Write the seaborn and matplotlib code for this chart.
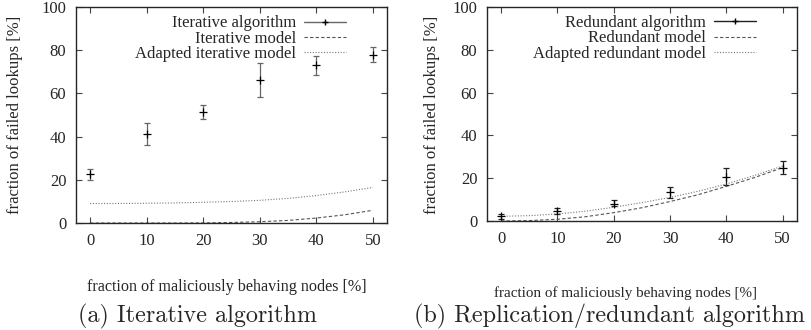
import numpy as np
import pandas as pd
import seaborn as sns
import matplotlib
matplotlib.use('Agg')
import matplotlib.pyplot as plt
from matplotlib.lines import Line2D

# measured points (x = fraction of malicious nodes)
pts_x = [0, 10, 20, 30, 40, 50]
iter_y = [22.6, 41.2, 51.2, 66.3, 73.1, 77.9]
iter_lo = [19.8, 36.2, 48.1, 58.2, 68.4, 74.5]
iter_hi = [24.8, 46.1, 54.8, 74.3, 77.1, 81.3]
red_y = [2.3, 4.7, 8.1, 13.6, 20.6, 24.8]
red_lo = [1.1, 3.4, 6.9, 10.9, 16.6, 21.9]
red_hi = [3.4, 5.9, 9.7, 15.9, 24.7, 28.1]

# model curves
model_x = [0, 5, 10, 15, 20, 25, 30, 35, 40, 45, 50]
iter_model = [0, 0, 0, 0, 0.05, 0.25, 0.6, 1.2, 2.3, 3.8, 5.9]
iter_adapted = [9.0, 9.05, 9.15, 9.3, 9.6, 9.95, 10.5, 11.4, 12.7, 14.4, 16.5]
red_model = [0, 0.2, 0.8, 2.0, 3.9, 6.2, 9.1, 12.3, 16.2, 20.3, 25.0]
red_adapted = [2.2, 2.5, 3.3, 4.6, 6.4, 8.6, 11.0, 13.9, 17.3, 21.3, 25.7]

sns.set_style('ticks')
plt.rcParams['font.family'] = ['Liberation Serif', 'DejaVu Serif']

fig = plt.figure(figsize=(8.11, 3.3), dpi=100)
ax1 = fig.add_axes([0.0937, 0.3242, 0.3835, 0.6545])
ax2 = fig.add_axes([0.6005, 0.3303, 0.382, 0.6485])

dash = (0, (3, 2))
dot = (0, (1, 1.5))


def panel(ax, y, lo, hi, model, adapted, names, ebcol):
    df = pd.DataFrame({'x': model_x, 'model': model, 'adapted': adapted})
    sns.lineplot(data=df, x='x', y='model', ax=ax, color='#555555', lw=0.8, linestyle=dash)
    sns.lineplot(data=df, x='x', y='adapted', ax=ax, color='#777777', lw=0.8, linestyle=dot)
    y = np.array(y)
    err = [y - np.array(lo), np.array(hi) - y]
    ax.errorbar(pts_x, y, yerr=err, fmt='+', color='black', ecolor=ebcol,
                elinewidth=0.9, capsize=2.5, capthick=0.9, ms=6, mew=0.9)
    ax.set_xlim(-2.5, 52.5)
    ax.set_ylim(0, 100)
    ax.set_xticks(pts_x)
    ax.set_yticks([0, 20, 40, 60, 80, 100])
    ax.set_xlabel('')
    ax.set_ylabel('')
    ax.tick_params(direction='in', top=True, right=True, length=4, width=0.8,
                   labelsize=12, pad=7, color='#444444')
    for s in ax.spines.values():
        s.set_linewidth(1.0)
        s.set_visible(True)
    handles = [
        Line2D([0], [0], color=ebcol, lw=1.0, marker='+', ms=5, mec='black'),
        Line2D([0], [0], color='#555555', lw=0.8, linestyle=dash),
        Line2D([0], [0], color='#777777', lw=0.8, linestyle=dot),
    ]
    ax.legend(handles, names, loc='upper right', bbox_to_anchor=(0.895, 1.0),
              frameon=False, markerfirst=False, fontsize=12, handlelength=2.5,
              handletextpad=0.5, labelspacing=-0.05, borderaxespad=0.3, borderpad=0.2)


panel(ax1, iter_y, iter_lo, iter_hi, iter_model, iter_adapted,
      ['Iterative algorithm', 'Iterative model', 'Adapted iterative model'], '#666666')
panel(ax2, red_y, red_lo, red_hi, red_model, red_adapted,
      ['Redundant algorithm', 'Redundant model', 'Adapted redundant model'], '#222222')

fig.text(15 / 811, 1 - 115 / 330, 'fraction of failed lookups [%]', rotation=90,
         ha='center', va='center', fontsize=12)
fig.text(432 / 811, 1 - 115 / 330, 'fraction of failed lookups [%]', rotation=90,
         ha='center', va='center', fontsize=12)
fig.text(227 / 811, 1 - 287 / 330, 'fraction of maliciously behaving nodes [%]',
         ha='center', va='center', fontsize=11.6)
fig.text(626 / 811, 1 - 293 / 330, 'fraction of maliciously behaving nodes [%]',
         ha='center', va='center', fontsize=10.9)
fig.text(197 / 811, 1 - 316 / 330, '(a) Iterative algorithm', family='cmr10',
         ha='center', va='center', fontsize=17.4)
fig.text(610 / 811, 1 - 316 / 330, '(b) Replication/redundant algorithm', family='cmr10',
         ha='center', va='center', fontsize=17.4)

fig.savefig('out.png', dpi=100)
